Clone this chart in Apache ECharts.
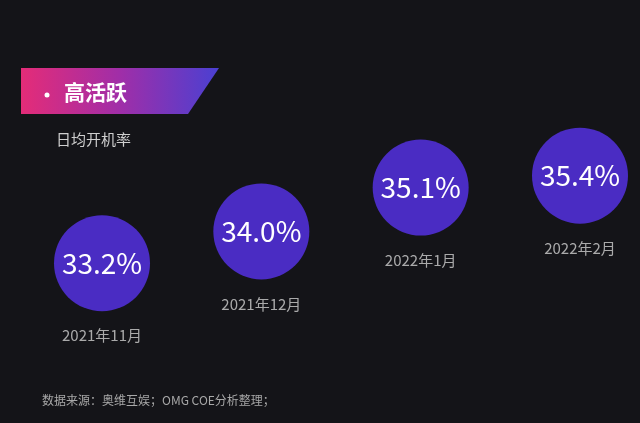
<!DOCTYPE html>
<html>
<head>
<meta charset="utf-8">
<script src="https://cdn.jsdelivr.net/npm/echarts@6/dist/echarts.min.js"></script>
<style>
html,body{margin:0;padding:0;background:#141418;}
#main{width:640px;height:423px;}
</style>
</head>
<body>
<div id="main"></div>
<script>
var months = ['2021年11月', '2021年12月', '2022年1月', '2022年2月'];
var rates = [33.2, 34.0, 35.1, 35.4];
var titleText = '高活跃';
var subtitleText = '日均开机率';
var sourceText = '数据来源：奥维互娱；OMG COE分析整理；';

var font = '"Noto Sans CJK SC", "Noto Sans", sans-serif';
var chart = echarts.init(document.getElementById('main'));
chart.setOption({
  backgroundColor: '#141418',
  animation: false,
  grid: { left: 102, right: 60, top: 112, bottom: 112 },
  xAxis: { type: 'category', data: months, boundaryGap: false, show: false },
  yAxis: { type: 'value', min: 32, max: 37, show: false },
  series: [
    {
      type: 'scatter',
      data: rates,
      symbolSize: 96,
      itemStyle: { color: '#4a2cc3', opacity: 1 },
      label: {
        show: true,
        position: 'inside',
        formatter: function (p) { return p.value.toFixed(1) + '%'; },
        color: '#ffffff',
        fontSize: 28,
        fontFamily: font
      },
      z: 3
    },
    {
      type: 'scatter',
      data: rates,
      symbolSize: 96,
      itemStyle: { color: 'rgba(0,0,0,0)' },
      label: {
        show: true,
        position: 'bottom',
        distance: 17,
        formatter: function (p) { return months[p.dataIndex]; },
        color: '#cfcfcf',
        fontSize: 15,
        fontFamily: font
      },
      z: 2
    }
  ],
  graphic: [
    {
      type: 'polygon',
      shape: { points: [[21, 68], [219, 68], [188, 114], [21, 114]] },
      style: {
        fill: {
          type: 'linear', x: 0, y: 0, x2: 1, y2: 0,
          colorStops: [
            { offset: 0, color: '#e42c78' },
            { offset: 0.5, color: '#a02ea8' },
            { offset: 1, color: '#4a40d2' }
          ]
        }
      }
    },
    {
      type: 'circle',
      shape: { cx: 47, cy: 95, r: 2.5 },
      style: { fill: '#ffffff' }
    },
    {
      type: 'text',
      left: 64, top: 82,
      style: { text: titleText, fill: '#ffffff', font: 'bold 21px ' + font }
    },
    {
      type: 'text',
      left: 56, top: 132,
      style: { text: subtitleText, fill: '#cfcfcf', font: '15px ' + font }
    },
    {
      type: 'text',
      left: 42, top: 394,
      style: { text: sourceText, fill: '#a8a8a8', font: '12px ' + font }
    }
  ]
});
</script>
</body>
</html>
